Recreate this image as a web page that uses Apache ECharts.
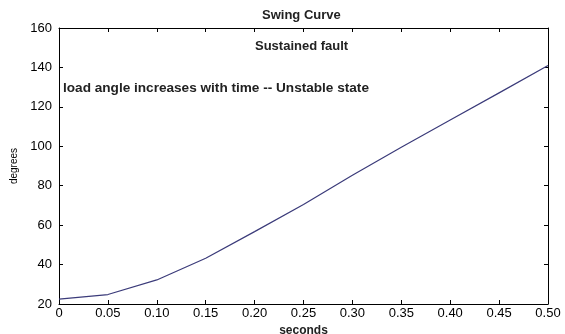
<!DOCTYPE html>
<html>
<head>
<meta charset="utf-8">
<script src="https://cdn.jsdelivr.net/npm/echarts@6/dist/echarts.min.js"></script>
<style>
  html, body { margin: 0; padding: 0; background: #fff; }
  #main { width: 565px; height: 334px; }
</style>
</head>
<body>
<div id="main"></div>
<script>
// swing curve, sustained fault
var seconds = [0, 0.05, 0.10, 0.15, 0.20, 0.25, 0.30, 0.35, 0.40, 0.45, 0.50];
var degrees = [22.5, 24.8, 32.2, 43.2, 56.7, 70.5, 85.3, 99.5, 113.3, 127.1, 141];
var xTicks = ['0', '0.05', '0.10', '0.15', '0.20', '0.25', '0.30', '0.35', '0.40', '0.45', '0.50'];

var myChart = echarts.init(document.getElementById('main'));

var font = 'Liberation Sans, Arial, sans-serif';

var axisCommon = {
    axisLine: { show: true, onZero: false, lineStyle: { color: '#000', width: 1 } },
    axisTick: { show: true, inside: true, length: 4, lineStyle: { color: '#000' } },
    splitLine: { show: false }
};

var option = {
    animation: false,
    backgroundColor: '#fff',
    grid: { left: 59, right: 17, top: 28, bottom: 30, outerBoundsMode: 'none', containLabel: false },
    xAxis: [
        Object.assign({
            type: 'value', position: 'bottom', min: 0, max: 0.5, interval: 0.05,
            axisLabel: {
                color: '#000', fontFamily: font, fontSize: 13, margin: 3,
                formatter: function(v) {
                    var i = Math.round(v / 0.05);
                    return xTicks[i];
                }
            },
            name: 'seconds', nameLocation: 'middle', nameGap: 13,
            nameTextStyle: { color: '#222', fontFamily: font, fontSize: 12, fontWeight: 'bold' }
        }, axisCommon),
        Object.assign({
            type: 'value', position: 'top', min: 0, max: 0.5, interval: 0.05,
            axisLabel: { show: false }
        }, axisCommon)
    ],
    yAxis: [
        Object.assign({
            type: 'value', position: 'left', min: 20, max: 160, interval: 20,
            axisLabel: { color: '#000', fontFamily: font, fontSize: 13, margin: 7 },
            name: 'degrees', nameLocation: 'middle', nameGap: 39, nameRotate: 90,
            nameTextStyle: { color: '#000', fontFamily: font, fontSize: 10 }
        }, axisCommon),
        Object.assign({
            type: 'value', position: 'right', min: 20, max: 160, interval: 20,
            axisLabel: { show: false }
        }, axisCommon)
    ],
    graphic: [
        { type: 'text', left: 262, top: 9,
          style: { text: 'Swing Curve', fill: '#222', font: 'bold 13px ' + font } },
        { type: 'text', left: 255, top: 40,
          style: { text: 'Sustained fault', fill: '#222', font: 'bold 13px ' + font } },
        { type: 'text', left: 63, top: 81,
          style: { text: 'load angle increases with time -- Unstable state', fill: '#222', font: 'bold 13.6px ' + font } }
    ],
    series: [
        {
            type: 'line',
            showSymbol: false,
            data: seconds.map(function(s, i) { return [s, degrees[i]]; }),
            lineStyle: { color: '#3b3b7a', width: 1.2 }
        }
    ]
};

myChart.setOption(option);
</script>
</body>
</html>
